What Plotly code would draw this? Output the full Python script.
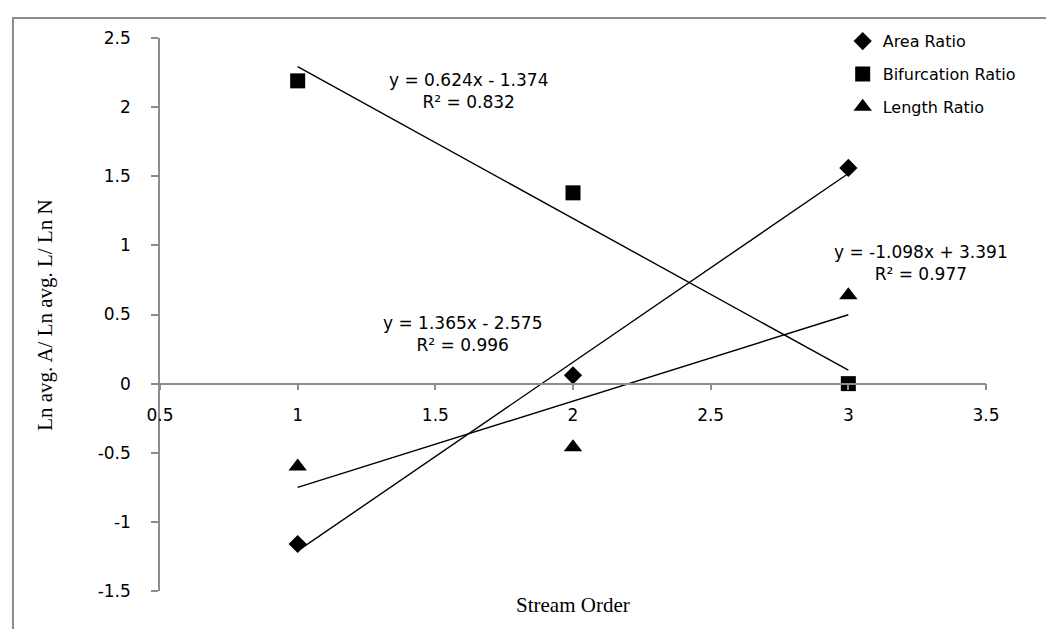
import plotly.graph_objects as go

stream_order = [1, 2, 3]
area_ratio = [-1.16, 0.06, 1.56]
bifurcation_ratio = [2.19, 1.38, 0.0]
length_ratio = [-0.60, -0.46, 0.64]

series_names = ["Area Ratio", "Bifurcation Ratio", "Length Ratio"]
series_symbols = ["diamond", "square", "triangle-up"]
series_sizes = [14, 15, 16]

# trendline coefficients as printed on the chart
trend_slopes = [1.365, -1.098, 0.624]
trend_intercepts = [-2.575, 3.391, -1.374]
trend_r2 = [0.996, 0.977, 0.832]
trend_label_pos = [(1.60, 0.36), (3.264, 0.87), (1.622, 2.12)]

x_ticks = [0.5, 1, 1.5, 2, 2.5, 3, 3.5]
y_ticks = [-1.5, -1, -0.5, 0, 0.5, 1, 1.5, 2, 2.5]

TICK_FONT = dict(family="DejaVu Sans", size=17, color="black")
AX_COLOR = "#8c8c8c"

fig = go.Figure()
series_values = [area_ratio, bifurcation_ratio, length_ratio]

for i, (name, vals) in enumerate(zip(series_names, series_values)):
    fig.add_trace(go.Scatter(
        x=stream_order, y=vals, mode="markers", name=name,
        legendgroup=name,
        marker=dict(symbol=series_symbols[i], size=series_sizes[i], color="black"),
        cliponaxis=False,
    ))

xs = [min(stream_order), max(stream_order)]
for i in range(3):
    ys = [trend_slopes[i] * x + trend_intercepts[i] for x in xs]
    fig.add_trace(go.Scatter(
        x=xs, y=ys, mode="lines", showlegend=False,
        line=dict(color="black", width=1.4), hoverinfo="skip",
    ))

def fmt_eq(m, b):
    sign = "+" if b >= 0 else "-"
    return f"y = {m:.3f}x {sign} {abs(b):.3f}"

annotations = []
for i in range(3):
    px, py = trend_label_pos[i]
    annotations.append(dict(
        x=px, y=py, xref="x", yref="y", showarrow=False,
        text=fmt_eq(trend_slopes[i], trend_intercepts[i]) + f"<br>R² = {trend_r2[i]:.3f}",
        font=dict(family="DejaVu Sans", size=17, color="black"),
        align="center", xanchor="center", yanchor="middle",
    ))

annotations.append(dict(
    x=0.5, y=-0.025, xref="paper", yref="paper", showarrow=False,
    text="Stream Order", xanchor="center", yanchor="middle",
    font=dict(family="Liberation Serif", size=21, color="black"),
))
annotations.append(dict(
    x=-0.140, y=0.5, xref="paper", yref="paper", showarrow=False,
    text="Ln avg. A/ Ln avg. L/ Ln N", textangle=-90,
    xanchor="center", yanchor="middle",
    font=dict(family="Liberation Serif", size=21, color="black"),
))

fig.update_layout(
    width=1054, height=629,
    margin=dict(l=152, r=76, t=30, b=46),
    paper_bgcolor="white", plot_bgcolor="white",
    showlegend=True,
    legend=dict(
        x=0.8265, y=1.025, xanchor="left", yanchor="top",
        font=dict(family="DejaVu Sans", size=16, color="black"),
        bgcolor="rgba(0,0,0,0)", traceorder="grouped", tracegroupgap=9,
    ),
    annotations=annotations,
    shapes=[dict(
        type="rect", xref="paper", yref="paper",
        x0=-0.178, x1=1.2, y0=-0.2, y1=1.036,
        line=dict(color="#8c8c8c", width=2), layer="below",
    )],
    xaxis=dict(
        range=[0.5, 3.5], tickvals=x_ticks, ticktext=[f"{v:g}" for v in x_ticks],
        showgrid=False, zeroline=False, showline=True, linecolor=AX_COLOR, linewidth=1.5,
        ticks="outside", ticklen=6, tickcolor=AX_COLOR, tickwidth=1.5,
        anchor="free", position=0.375, tickfont=TICK_FONT, ticklabelstandoff=10,
    ),
    yaxis=dict(
        range=[-1.5, 2.5], tickvals=y_ticks, ticktext=[f"{v:g}" for v in y_ticks],
        showgrid=False, zeroline=False, showline=True, linecolor=AX_COLOR, linewidth=1.5,
        ticks="outside", ticklen=7, tickcolor=AX_COLOR, tickwidth=1.5,
        tickfont=TICK_FONT, ticklabelstandoff=17,
    ),
)

fig.write_html("out.html")
